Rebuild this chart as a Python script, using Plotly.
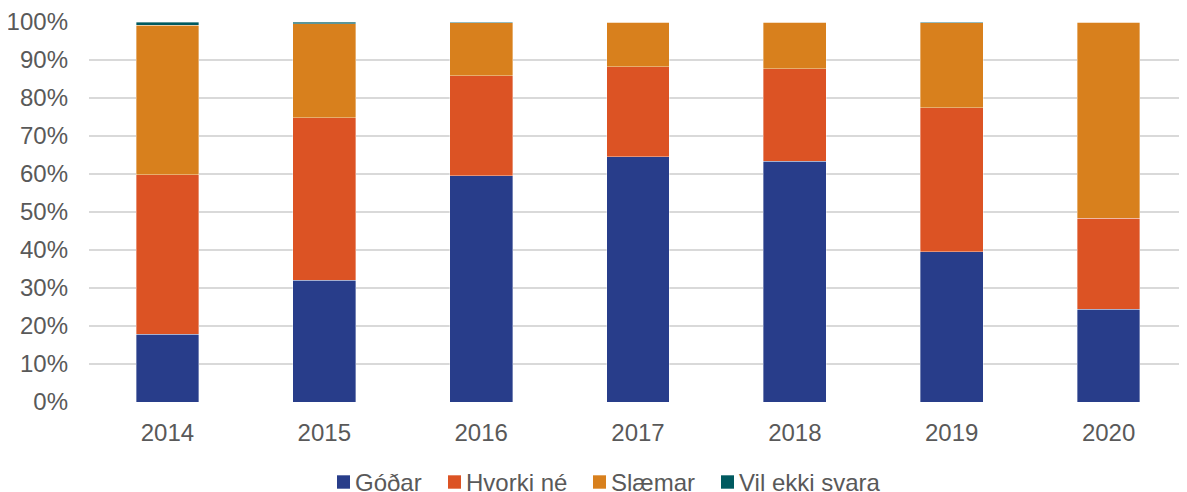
import plotly.graph_objects as go

years = ["2014", "2015", "2016", "2017", "2018", "2019", "2020"]
godar = [17.8, 32.0, 59.6, 64.6, 63.3, 39.6, 24.4]
hvorki = [42.0, 42.8, 26.2, 23.6, 24.4, 37.8, 23.9]
slaemar = [39.4, 24.7, 14.0, 11.8, 12.3, 22.4, 51.7]
vil_ekki = [0.8, 0.5, 0.2, 0.0, 0.0, 0.2, 0.0]

series_names = ["Góðar", "Hvorki né", "Slæmar", "Vil ekki svara"]
series_values = [godar, hvorki, slaemar, vil_ekki]
series_colors = ["#283d8a", "#dc5324", "#d8801d", "#005a60"]

# layout constants (pixels in the page)
W, H = 1179, 484
ML, MR, MT, MB = 81, 0, 14, 90
legend_marker_x = [337, 448, 593, 721]
legend_y_top, legend_y_bot = 475.3, 488.7
legend_text_y = 482

fig = go.Figure()
for name, vals, color in zip(series_names, series_values, series_colors):
    fig.add_trace(go.Bar(
        x=years, y=[v / 100 for v in vals], name=name, showlegend=False,
        marker=dict(color=color, line=dict(width=0.6, color="rgba(255,255,255,0.6)")),
    ))

pw = W - ML - MR
ph = H - MT - MB
def px_x(xp):
    return (xp - 8 - ML) / pw
def px_y(yp):
    return (H - MB - (yp - 8)) / ph

font = "Liberation Sans, Arial, sans-serif"
shapes, annotations = [], []
for name, color, mx in zip(series_names, series_colors, legend_marker_x):
    shapes.append(dict(type="rect", xref="paper", yref="paper",
                       x0=px_x(mx), x1=px_x(mx + 13),
                       y0=px_y(legend_y_bot), y1=px_y(legend_y_top),
                       fillcolor=color, line=dict(width=0)))
    annotations.append(dict(text=name, xref="paper", yref="paper",
                            x=px_x(mx + 16), y=px_y(legend_text_y),
                            xanchor="left", yanchor="middle", showarrow=False,
                            font=dict(family=font, size=24, color="#595959")))

fig.update_layout(
    barmode="stack",
    bargap=0.6,
    width=W, height=H,
    margin=dict(l=ML, r=MR, t=MT, b=MB),
    plot_bgcolor="white", paper_bgcolor="white",
    font=dict(family=font, size=24, color="#595959"),
    yaxis=dict(range=[0, 1], tickformat=".0%", dtick=0.1,
               gridcolor="#d9d9d9", gridwidth=1.5, zeroline=False,
               ticks="", ticklabelstandoff=20, automargin=False),
    xaxis=dict(showline=False, ticks="", ticklabelstandoff=14, automargin=False),
    showlegend=False,
    shapes=shapes,
    annotations=annotations,
)
fig.write_html("out.html")
